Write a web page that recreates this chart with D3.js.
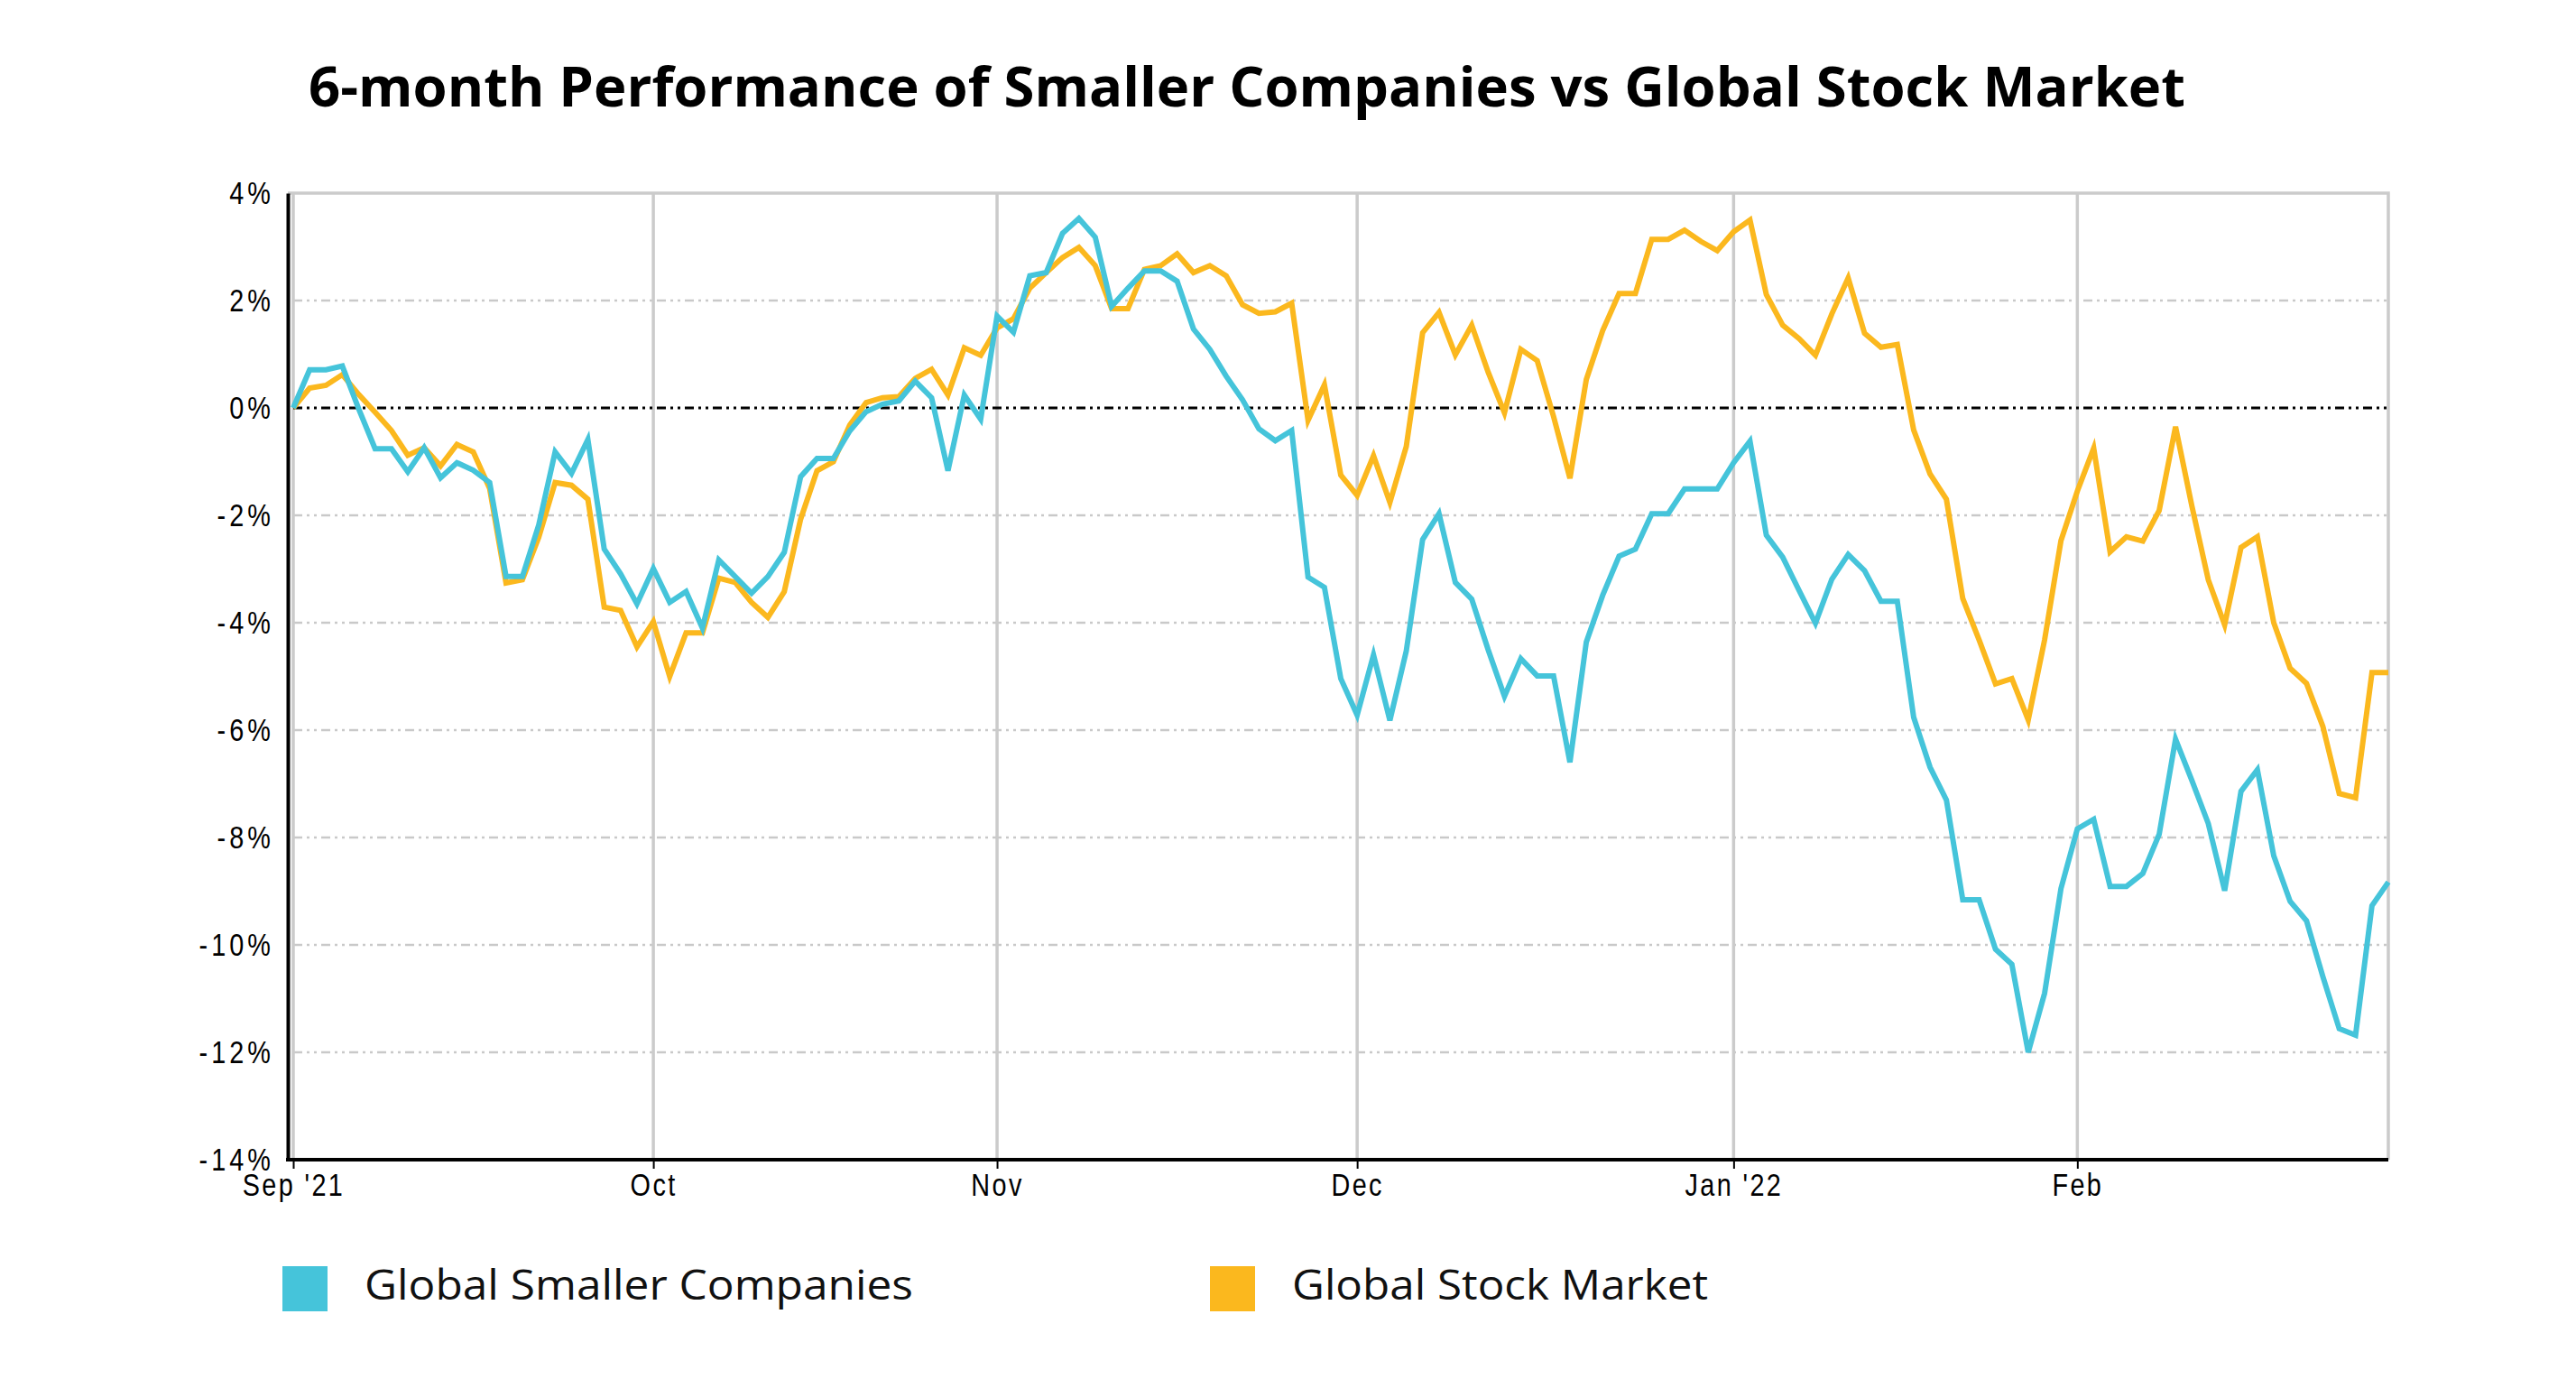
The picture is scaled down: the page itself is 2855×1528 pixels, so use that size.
<!DOCTYPE html>
<html>
<head>
<meta charset="utf-8">
<script src="https://cdn.jsdelivr.net/npm/d3@7"></script>
<style>
  body { margin: 0; background: #fff; }
  svg { display: block; }
</style>
</head>
<body>
<svg id="chart"></svg>
<script>
const title = "6-month Performance of Smaller Companies vs Global Stock Market";

// weekday trading dates, 1 Sep 2021 .. 28 Feb 2022
const dates = d3.timeDay
  .range(new Date(2021, 8, 1), new Date(2022, 2, 1))
  .filter((d) => d.getDay() !== 0 && d.getDay() !== 6);

const monthTicks = ["2021-09-01", "2021-10-01", "2021-11-01", "2021-12-01", "2022-01-03", "2022-02-01"];
const monthLabels = ["Sep '21", "Oct", "Nov", "Dec", "Jan '22", "Feb"];

const yTicks = [4, 2, 0, -2, -4, -6, -8, -10, -12, -14];

const seriesNames = ["Global Smaller Companies", "Global Stock Market"];

const smallerCompanies = [
  0, 0.71, 0.71, 0.78, -0.02, -0.76, -0.76, -1.19, -0.74, -1.30,
  -1.02, -1.16, -1.39, -3.14, -3.14, -2.18, -0.82, -1.22, -0.59, -2.63,
  -3.09, -3.65, -2.99, -3.62, -3.42, -4.10, -2.83, -3.14, -3.45, -3.14,
  -2.69, -1.28, -0.94, -0.94, -0.43, -0.07, 0.07, 0.13, 0.50, 0.19,
  -1.17, 0.24, -0.21, 1.71, 1.41, 2.46, 2.52, 3.25, 3.53, 3.18,
  1.89, 2.23, 2.55, 2.55, 2.36, 1.47, 1.09, 0.59, 0.15, -0.39,
  -0.61, -0.42, -3.15, -3.34, -5.04, -5.72, -4.60, -5.82, -4.53, -2.45,
  -1.97, -3.25, -3.56, -4.50, -5.37, -4.67, -4.99, -4.99, -6.60, -4.36,
  -3.49, -2.76, -2.63, -1.97, -1.97, -1.51, -1.51, -1.51, -1.02, -0.62,
  -2.37, -2.78, -3.40, -4.01, -3.19, -2.73, -3.03, -3.60, -3.60, -5.76,
  -6.69, -7.30, -9.16, -9.16, -10.08, -10.36, -12.00, -10.90, -8.95, -7.84,
  -7.66, -8.91, -8.91, -8.67, -7.94, -6.17, -6.94, -7.74, -8.99, -7.14,
  -6.74, -8.34, -9.19, -9.55, -10.59, -11.56, -11.68, -9.27, -8.83
];

const globalMarket = [
  0, 0.37, 0.42, 0.62, 0.25, -0.08, -0.42, -0.88, -0.74, -1.08,
  -0.68, -0.82, -1.50, -3.26, -3.20, -2.41, -1.39, -1.44, -1.70, -3.71,
  -3.77, -4.45, -3.98, -5.00, -4.19, -4.19, -3.17, -3.25, -3.62, -3.90,
  -3.42, -2.07, -1.17, -1.00, -0.32, 0.10, 0.19, 0.21, 0.55, 0.72,
  0.24, 1.12, 0.98, 1.49, 1.66, 2.23, 2.52, 2.80, 2.99, 2.65,
  1.85, 1.85, 2.58, 2.65, 2.87, 2.52, 2.65, 2.46, 1.92, 1.76,
  1.79, 1.95, -0.23, 0.43, -1.25, -1.63, -0.89, -1.76, -0.72, 1.40,
  1.78, 0.99, 1.54, 0.67, -0.09, 1.09, 0.88, -0.16, -1.31, 0.53,
  1.44, 2.13, 2.13, 3.14, 3.14, 3.31, 3.10, 2.93, 3.28, 3.50,
  2.11, 1.54, 1.29, 0.98, 1.75, 2.42, 1.39, 1.13, 1.18, -0.41,
  -1.23, -1.70, -3.55, -4.32, -5.14, -5.04, -5.81, -4.32, -2.47, -1.55,
  -0.75, -2.68, -2.40, -2.48, -1.91, -0.35, -1.83, -3.20, -4.04, -2.60,
  -2.40, -4.00, -4.85, -5.13, -5.93, -7.18, -7.26, -4.93, -4.93
];

const colors = ["#45c4da", "#fbb81e"];

const width = 2855;
const height = 1528;
const plotLeft = 325;
const plotRight = 2647;
const plotTop = 214;
const plotBottom = 1285;

const fmt = d3.timeFormat("%Y-%m-%d");
const dateKeys = dates.map(fmt);

const svg = d3.select("#chart").attr("width", width).attr("height", height);

// scales
const xScale = d3.scalePoint().domain(dateKeys).range([plotLeft, plotRight]);
const yScale = d3.scaleLinear().domain([-14, 4]).range([plotBottom, plotTop]);

// title
svg.append("text")
  .attr("x", 342)
  .attr("y", 118)
  .attr("textLength", 2080)
  .attr("lengthAdjust", "spacingAndGlyphs")
  .style("font-family", "'Open Sans', 'Noto Sans', sans-serif")
  .style("font-weight", 700)
  .style("font-size", "61px")
  .style("fill", "#000")
  .text(title);

// horizontal grid (dash-dot)
svg.append("g")
  .selectAll("line")
  .data(yTicks.filter((v) => v !== 0 && v !== 4 && v !== -14))
  .join("line")
  .attr("x1", plotLeft)
  .attr("x2", plotRight)
  .attr("y1", (d) => yScale(d))
  .attr("y2", (d) => yScale(d))
  .style("stroke", "#c9c9c9")
  .style("stroke-width", 2.5)
  .style("stroke-dasharray", "10,5,3,5,3,5");

// vertical month grid
svg.append("g")
  .selectAll("line")
  .data(monthTicks)
  .join("line")
  .attr("x1", (d) => xScale(d))
  .attr("x2", (d) => xScale(d))
  .attr("y1", plotTop)
  .attr("y2", plotBottom)
  .style("stroke", "#cbcbcb")
  .style("stroke-width", 3.5);

// top and right frame
svg.append("path")
  .attr("d", `M${plotLeft - 6},${plotTop}H${plotRight}V${plotBottom}`)
  .style("fill", "none")
  .style("stroke", "#cbcbcb")
  .style("stroke-width", 3.5);

// zero line
svg.append("line")
  .attr("x1", plotLeft)
  .attr("x2", plotRight)
  .attr("y1", yScale(0))
  .attr("y2", yScale(0))
  .style("stroke", "#000")
  .style("stroke-width", 3)
  .style("stroke-dasharray", "10,5,3,5,3,5");

// series lines
const line = d3.line()
  .x((d, i) => xScale(dateKeys[i]))
  .y((d) => yScale(d));

svg.append("g")
  .selectAll("path")
  .data([globalMarket, smallerCompanies])
  .join("path")
  .attr("d", line)
  .style("fill", "none")
  .style("stroke", (d, i) => (i === 0 ? colors[1] : colors[0]))
  .style("stroke-width", 6)
  .style("stroke-linejoin", "miter");

// axes - narrow, widely spaced labels like the original bitmap font
const axisFont = "'Liberation Sans', Arial, sans-serif";

const yAxis = d3.axisLeft(yScale)
  .tickValues(yTicks)
  .tickSize(0)
  .tickPadding(19)
  .tickFormat((d) => d + "%");

svg.append("g")
  .attr("class", "y-axis")
  .attr("transform", `translate(${plotLeft - 6},0)`)
  .call(yAxis)
  .call((g) => g.select(".domain").style("stroke", "#000").style("stroke-width", 4))
  .selectAll("text")
  .attr("transform", "scale(0.8,1)")
  .style("font-family", axisFont)
  .style("font-size", "36px")
  .style("letter-spacing", "5px")
  .style("fill", "#000");

const xAxis = d3.axisBottom(xScale)
  .tickValues(monthTicks)
  .tickSize(10)
  .tickPadding(4)
  .tickFormat((d, i) => monthLabels[i]);

svg.append("g")
  .attr("class", "x-axis")
  .attr("transform", `translate(0,${plotBottom})`)
  .call(xAxis)
  .call((g) => g.select(".domain")
    .attr("d", `M${plotLeft - 8},0H${plotRight}`)
    .style("stroke", "#000")
    .style("stroke-width", 4))
  .call((g) => g.selectAll(".tick line").style("stroke", "#000").style("stroke-width", 2))
  .selectAll("text")
  .attr("transform", "scale(0.8,1)")
  .style("font-family", axisFont)
  .style("font-size", "36px")
  .style("letter-spacing", "3px")
  .style("fill", "#000");

// legend
const legendX = [313, 1341];
const legendW = [608, 461];
const legend = svg.append("g")
  .selectAll("g")
  .data(seriesNames)
  .join("g")
  .attr("transform", (d, i) => `translate(${legendX[i]},1403)`);

legend.append("rect")
  .attr("width", 50)
  .attr("height", 50)
  .style("fill", (d, i) => colors[i]);

legend.append("text")
  .attr("x", 91)
  .attr("y", 37)
  .attr("textLength", (d, i) => legendW[i])
  .attr("lengthAdjust", "spacingAndGlyphs")
  .style("font-family", "'Open Sans', 'Noto Sans', sans-serif")
  .style("font-weight", 400)
  .style("font-size", "45px")
  .style("fill", "#111")
  .text((d) => d);
</script>
</body>
</html>
